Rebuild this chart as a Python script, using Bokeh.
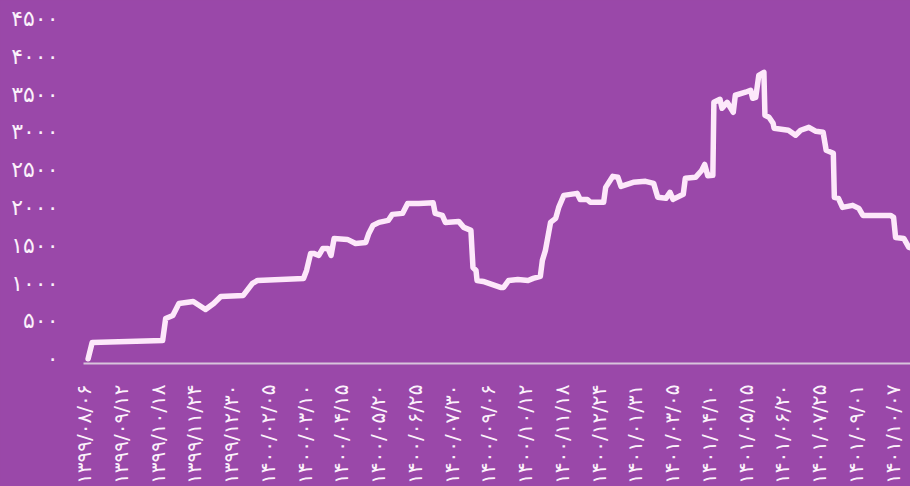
import math
from bokeh.plotting import figure
from bokeh.models import FixedTicker, Range1d
from bokeh.embed import file_html
from bokeh.resources import INLINE

# Day index (days since 1399/08/06) and value
days = [4, 8, 77, 80, 87, 93, 107, 119, 127, 134, 156, 165, 170, 215, 218, 222,
        225, 230, 234, 239, 242, 245, 258, 266, 276, 279, 283, 289, 298, 302, 312,
        317, 328, 342, 344, 351, 354, 367, 372, 379, 381, 384, 385, 391, 408, 411,
        416, 425, 435, 440, 447, 449, 452, 457, 462, 465, 470, 483, 486, 493, 496,
        509, 511, 518, 523, 526, 538, 550, 558, 562, 570, 574, 577, 587, 589, 599,
        605, 608, 611, 616, 617, 623, 625, 630, 636, 638, 648, 653, 655, 658, 661,
        666, 667, 671, 675, 676, 690, 697, 702, 710, 717, 724, 727, 734, 735, 739,
        743, 753, 759, 763, 790, 793, 795, 803, 808, 812]
values = [0, 216, 242, 533, 573, 732, 758, 652, 732, 825, 838, 997, 1036, 1063, 1169, 1394,
          1394, 1367, 1460, 1460, 1367, 1592, 1579, 1526, 1539, 1658, 1764, 1804, 1830, 1910, 1923,
          2055, 2055, 2065, 1923, 1896, 1804, 1817, 1738, 1698, 1208, 1168, 1036, 1023, 944, 944,
          1036, 1049, 1036, 1063, 1090, 1301, 1434, 1804, 1857, 2002, 2161, 2188, 2108, 2108, 2069,
          2069, 2267, 2413, 2400, 2281, 2334, 2347, 2320, 2135, 2122, 2201, 2108, 2175, 2387, 2400,
          2490, 2570, 2420, 2426, 3392, 3432, 3313, 3392, 3260, 3485, 3525, 3551, 3445, 3458, 3749,
          3789, 3220, 3194, 3114, 3048, 3022, 2956, 3022, 3061, 3008, 2995, 2757, 2717, 2135, 2122,
          2002, 2029, 1989, 1896, 1896, 1870, 1605, 1592, 1473, 1460]

x_tick_labels = ["۱۳۹۹/۰۸/۰۶", "۱۳۹۹/۰۹/۱۲", "۱۳۹۹/۱۰/۱۸", "۱۳۹۹/۱۱/۲۴", "۱۳۹۹/۱۲/۳۰",
                 "۱۴۰۰/۰۲/۰۵", "۱۴۰۰/۰۳/۱۰", "۱۴۰۰/۰۴/۱۵", "۱۴۰۰/۰۵/۲۰", "۱۴۰۰/۰۶/۲۵",
                 "۱۴۰۰/۰۷/۳۰", "۱۴۰۰/۰۹/۰۶", "۱۴۰۰/۱۰/۱۲", "۱۴۰۰/۱۱/۱۸", "۱۴۰۰/۱۲/۲۴",
                 "۱۴۰۱/۰۱/۳۱", "۱۴۰۱/۰۳/۰۵", "۱۴۰۱/۰۴/۱۰", "۱۴۰۱/۰۵/۱۵", "۱۴۰۱/۰۶/۲۰",
                 "۱۴۰۱/۰۷/۲۵", "۱۴۰۱/۰۹/۰۱", "۱۴۰۱/۱۰/۰۷"]
x_ticks = [36 * i for i in range(len(x_tick_labels))]

y_ticks = [0, 500, 1000, 1500, 2000, 2500, 3000, 3500, 4000, 4500]
y_tick_labels = ["۰", "۵۰۰", "۱۰۰۰", "۱۵۰۰", "۲۰۰۰", "۲۵۰۰", "۳۰۰۰", "۳۵۰۰", "۴۰۰۰", "۴۵۰۰"]

BG = "#9a48a9"
LINE = "#fde8fa"
TEXT = "#fbf1fb"
FONT = "DejaVu Sans"

p = figure(frame_width=827, frame_height=345, output_backend="svg", toolbar_location=None,
           x_range=Range1d(-0.5, 809.6), y_range=Range1d(-62, 4500),
           background_fill_color=BG, border_fill_color=BG, outline_line_color=None,
           min_border_left=83, min_border_right=0, min_border_top=18, min_border_bottom=0)

p.line(days, values, line_width=5.5, line_color=LINE, line_join="round", line_cap="round")
p.grid.visible = False

xa = p.xaxis[0]
xa.ticker = FixedTicker(ticks=x_ticks)
xa.major_label_overrides = {t: l for t, l in zip(x_ticks, x_tick_labels)}
xa.axis_line_color = "#d8c4dc"
xa.axis_line_width = 2
xa.major_tick_line_color = None
xa.minor_tick_line_color = None
xa.major_label_orientation = math.pi / 2
xa.major_label_standoff = 15
xa.major_label_text_color = TEXT
xa.major_label_text_font = FONT
xa.major_label_text_font_size = "20px"

ya = p.yaxis[0]
ya.ticker = FixedTicker(ticks=y_ticks)
ya.major_label_overrides = {t: l for t, l in zip(y_ticks, y_tick_labels)}
ya.axis_line_color = None
ya.major_tick_line_color = None
ya.minor_tick_line_color = None
ya.major_label_standoff = 19
ya.major_label_text_color = TEXT
ya.major_label_text_font = FONT
ya.major_label_text_font_size = "22px"

html = file_html(p, INLINE)
html = html.replace("<head>", "<head><style>html,body{margin:0;padding:0;overflow:hidden;background:#9a48a9;}</style>", 1)
open("out.html", "w").write(html)
